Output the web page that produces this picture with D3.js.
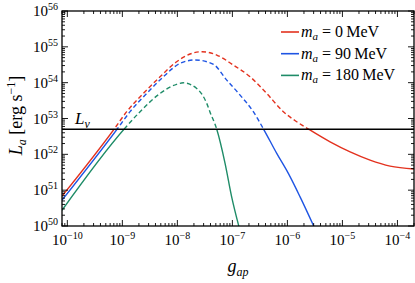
<!DOCTYPE html>
<html>
<head>
<meta charset="utf-8">
<script src="https://cdnjs.cloudflare.com/ajax/libs/d3/7.8.5/d3.min.js"></script>
<style>
  body { margin: 0; background: #fff; }
  text { font-family: "Liberation Serif", "DejaVu Serif", serif; fill: #000; }
</style>
</head>
<body>
<div id="chart"></div>
<script>
// values (g_ap, L_a in erg/s)
var gRed = [8e-11, 7.05e-10, 1.2e-9, 2.4e-9, 4.84e-9, 9.7e-9, 1.7e-8, 2.8e-8, 5.2e-8, 1.04e-7, 2.1e-7, 4.2e-7, 8.45e-7, 1.48e-6, 2.5e-6, 5.97e-6, 1.38e-5, 3.18e-5, 7.35e-5, 2e-4];
var LRed = [6.8e50, 5.0e52, 1.55e53, 5.0e53, 1.46e54, 3.84e54, 6.3e54, 7.3e54, 5.9e54, 3.1e54, 1.46e54, 5.0e53, 1.55e53, 8.1e52, 4.9e52, 2.23e52, 1.17e52, 6.9e51, 4.7e51, 3.9e51];

var gBlue = [8e-11, 8e-10, 1.38e-9, 2.77e-9, 5.56e-9, 1.12e-8, 2.1e-8, 4.45e-8, 7.9e-8, 1.38e-7, 2.4e-7, 3.7e-7, 6.4e-7, 1.04e-6, 1.7e-6, 3.1e-6];
var LBlue = [5.25e50, 5.0e52, 1.55e53, 5.0e53, 1.46e54, 3.46e54, 4.3e54, 3.3e54, 1.18e54, 4.5e53, 1.55e53, 5.0e52, 1.06e52, 2.93e51, 6.5e50, 9e49];

var gGreen = [8e-11, 1.07e-9, 2.1e-9, 4.84e-9, 9.7e-9, 1.28e-8, 2.25e-8, 3.42e-8, 3.93e-8, 5.2e-8, 7.36e-8, 9.7e-8, 1.32e-7];
var LGreen = [2.75e50, 5.0e52, 1.55e53, 5.0e53, 9.0e53, 9.9e53, 6.9e53, 2.64e53, 1.5e53, 5.0e52, 5.6e51, 6.5e50, 9.4e49];

var Lnu = 5e52;

var masses = ["0", "90", "180"];
var colors = ["#e3321f", "#1f55e3", "#1f8c68"];

var xTickExp = [-10, -9, -8, -7, -6, -5, -4];
var yTickExp = [50, 51, 52, 53, 54, 55, 56];

var svgWidth = 415, svgHeight = 283;
var margin = { top: 11, right: 1, bottom: 57, left: 62 };
var width = svgWidth - margin.left - margin.right;
var height = svgHeight - margin.top - margin.bottom;

var svg = d3.select("#chart").append("svg")
  .attr("width", svgWidth)
  .attr("height", svgHeight);

var g = svg.append("g")
  .attr("transform", `translate(${margin.left}, ${margin.top})`);

var x = d3.scaleLog().domain([8e-11, 2e-4]).range([0, width]);
var y = d3.scaleLog().domain([1e50, 1e56]).range([height, 0]);

// clip regions: solid below L_nu, dashed above
var defs = svg.append("defs");
defs.append("clipPath").attr("id", "below")
  .append("rect").attr("x", 0).attr("y", y(Lnu)).attr("width", width).attr("height", height - y(Lnu));
defs.append("clipPath").attr("id", "above")
  .append("rect").attr("x", 0).attr("y", 0).attr("width", width).attr("height", y(Lnu));

var line = d3.line()
  .x(d => x(d[0]))
  .y(d => y(d[1]))
  .curve(d3.curveMonotoneX);

var series = [
  d3.zip(gRed, LRed),
  d3.zip(gBlue, LBlue),
  d3.zip(gGreen, LGreen)
];

series.forEach(function(s, i) {
  g.append("path")
    .attr("d", line(s))
    .attr("clip-path", "url(#below)")
    .attr("fill", "none")
    .attr("stroke", colors[i])
    .attr("stroke-width", 1.4);
  g.append("path")
    .attr("d", line(s))
    .attr("clip-path", "url(#above)")
    .attr("fill", "none")
    .attr("stroke", colors[i])
    .attr("stroke-width", 1.4)
    .attr("stroke-dasharray", "4.5,2.8");
});

// L_nu line
g.append("line")
  .attr("x1", 0).attr("x2", width)
  .attr("y1", y(Lnu)).attr("y2", y(Lnu))
  .attr("stroke", "#000")
  .attr("stroke-width", 1.6);

var lnuText = g.append("text")
  .attr("x", 13)
  .attr("y", y(Lnu) - 5)
  .style("font-size", "17px")
  .style("font-style", "italic");
lnuText.append("tspan").text("L");
lnuText.append("tspan").attr("dy", 4).style("font-size", "12px").text("ν");

// ticks, inward on all four sides
function minorTicks(scale, lo, hi) {
  var out = [];
  for (var e = lo; e <= hi; e++) {
    for (var m = 1; m < 10; m++) {
      var v = m * Math.pow(10, e);
      var d = scale.domain();
      if (v >= d[0] && v <= d[1]) out.push({ v: v, major: m === 1 });
    }
  }
  return out;
}

var xt = minorTicks(x, -11, -4);
var yt = minorTicks(y, 50, 56);

var ticks = g.append("g").attr("stroke", "#000").attr("stroke-width", 0.9);
xt.forEach(function(t) {
  var len = t.major ? 6 : 3;
  ticks.append("line").attr("x1", x(t.v)).attr("x2", x(t.v)).attr("y1", height).attr("y2", height - len);
  ticks.append("line").attr("x1", x(t.v)).attr("x2", x(t.v)).attr("y1", 0).attr("y2", len);
});
yt.forEach(function(t) {
  var len = t.major ? 6 : 3;
  ticks.append("line").attr("y1", y(t.v)).attr("y2", y(t.v)).attr("x1", 0).attr("x2", len);
  ticks.append("line").attr("y1", y(t.v)).attr("y2", y(t.v)).attr("x1", width).attr("x2", width - len);
});

// frame
g.append("rect")
  .attr("width", width).attr("height", height)
  .attr("fill", "none")
  .attr("stroke", "#000")
  .attr("stroke-width", 1.3);

// tick labels
xTickExp.forEach(function(e) {
  var t = g.append("text")
    .attr("x", x(Math.pow(10, e)))
    .attr("y", height + 19)
    .attr("text-anchor", "middle")
    .style("font-size", "15px");
  t.append("tspan").text("10");
  t.append("tspan").attr("dy", -6).style("font-size", "10px").text("−" + Math.abs(e));
});

yTickExp.forEach(function(e) {
  var t = g.append("text")
    .attr("x", -4)
    .attr("y", y(Math.pow(10, e)) + 5)
    .attr("text-anchor", "end")
    .style("font-size", "15px");
  t.append("tspan").text("10");
  t.append("tspan").attr("dy", -6).style("font-size", "10px").text(e);
});

// axis labels
var xl = g.append("text")
  .attr("x", width / 2)
  .attr("y", height + 46)
  .attr("text-anchor", "middle")
  .style("font-size", "18px")
  .style("font-style", "italic");
xl.append("tspan").text("g");
xl.append("tspan").attr("dy", 4).style("font-size", "12px").text("ap");

var yl = svg.append("text")
  .attr("transform", `translate(22, ${margin.top + height / 2 - 3}) rotate(-90)`)
  .attr("text-anchor", "middle")
  .style("font-size", "18px");
yl.append("tspan").style("font-style", "italic").text("L");
yl.append("tspan").attr("dy", 4).style("font-size", "12px").style("font-style", "italic").text("a");
yl.append("tspan").attr("dy", -4).text(" [erg s");
yl.append("tspan").attr("dy", -7).style("font-size", "12px").text("−1");
yl.append("tspan").attr("dy", 7).text("]");

// legend
var legend = g.append("g").attr("transform", "translate(219, 21)");
masses.forEach(function(m, i) {
  var row = legend.append("g").attr("transform", `translate(0, ${i * 21.7})`);
  row.append("line")
    .attr("x1", 0).attr("x2", 18)
    .attr("y1", 0).attr("y2", 0)
    .attr("stroke", colors[i])
    .attr("stroke-width", 1.6);
  var t = row.append("text")
    .attr("x", 20)
    .attr("y", 5)
    .style("font-size", "16px");
  t.append("tspan").style("font-style", "italic").text("m");
  t.append("tspan").attr("dy", 3).style("font-size", "11px").style("font-style", "italic").text("a");
  t.append("tspan").attr("dy", -3).text(" = " + m + "\u2009MeV");
});
</script>
</body>
</html>
